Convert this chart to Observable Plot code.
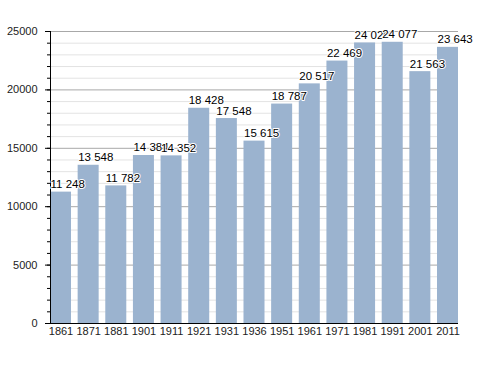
<!DOCTYPE html>
<html>
<head>
<meta charset="utf-8">
<script src="https://cdn.jsdelivr.net/npm/d3@7"></script>
<script src="https://cdn.jsdelivr.net/npm/@observablehq/plot@0.6"></script>
<style>
  html, body { margin: 0; padding: 0; background: white; }
</style>
</head>
<body>
<div id="chart"></div>
<script>
const years = ["1861","1871","1881","1901","1911","1921","1931","1936","1951","1961","1971","1981","1991","2001","2011"];
const population = [11248, 13548, 11782, 14384, 14352, 18428, 17548, 15615, 18787, 20517, 22469, 24020, 24077, 21563, 23643];
const majorTicks = [0, 5000, 10000, 15000, 20000, 25000];
const minorTicks = d3.range(0, 25001, 1000);

const data = years.map((y, i) => ({year: y, pop: population[i]}));
const fmt = v => d3.format(",")(v).replace(/,/g, " ");

const chart = Plot.plot({
  width: 488,
  height: 373,
  marginLeft: 50,
  marginRight: 30,
  marginTop: 31,
  marginBottom: 50,
  style: {fontFamily: "'Liberation Sans', Arial, sans-serif", fontSize: "11px", color: "#222", background: "white"},
  x: {domain: years, paddingInner: 0.24, paddingOuter: 0, round: false, label: null},
  y: {domain: [0, 25000], label: null},
  marks: [
    Plot.gridY(minorTicks.filter(v => v % 5000 !== 0), {stroke: "#e3e3e3", strokeOpacity: 1}),
    Plot.gridY(majorTicks.filter(v => v > 0), {stroke: "#a8a8a8", strokeOpacity: 1}),
    Plot.barY(data, {x: "year", y: "pop", fill: "#9bb3cf"}),
    Plot.axisY(minorTicks, {tickSize: 3, text: null, stroke: "#000"}),
    Plot.axisY(majorTicks, {tickSize: 5, tickPadding: 8, stroke: "#000", tickFormat: d => String(d)}),
    Plot.axisX({tickSize: 0, tickPadding: 4}),
    Plot.ruleY([0], {stroke: "#000"}),
    Plot.frame({anchor: "left", stroke: "#000"}),
    Plot.text(data, {x: "year", y: "pop", text: d => fmt(d.pop), textAnchor: "start", dx: -10.5, dy: -4, lineAnchor: "bottom", fill: "#000", stroke: "white", strokeWidth: 2, fontSize: 11.5})
  ]
});
document.getElementById("chart").appendChild(chart);
</script>
</body>
</html>
